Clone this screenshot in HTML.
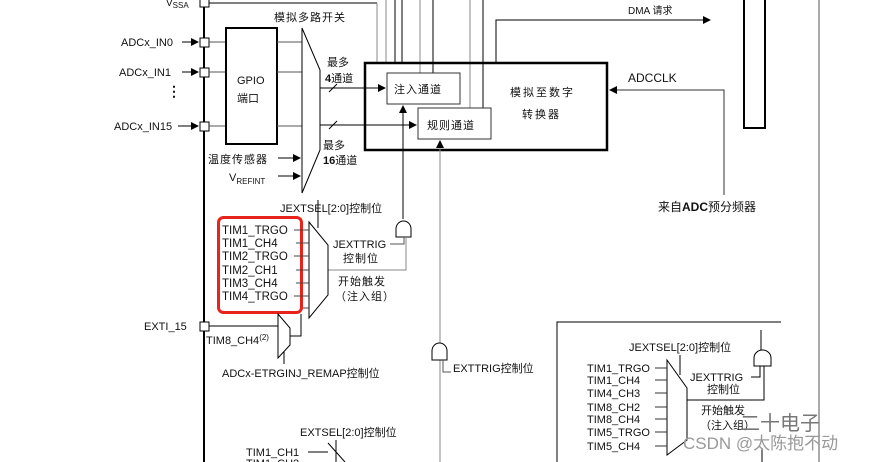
<!DOCTYPE html>
<html><head><meta charset="utf-8"><style>
html,body{margin:0;padding:0;background:#fff;}
svg{display:block;}
text{font-family:"Liberation Sans","Noto Sans CJK SC",sans-serif;fill:#111;}
</style></head><body>
<svg width="869" height="462" viewBox="0 0 869 462" xmlns="http://www.w3.org/2000/svg">
<defs>
<marker id="ar" markerWidth="8" markerHeight="8" refX="7" refY="4" orient="auto" markerUnits="userSpaceOnUse"><path d="M0,0 L8,4 L0,8 z" fill="#000"/></marker>
</defs>
<g stroke="#000" fill="none" stroke-width="1">
<line x1="204" y1="0" x2="204" y2="462" stroke-width="2"/>
<line x1="209" y1="3" x2="377" y2="3"/>
<line x1="377" y1="3" x2="377" y2="63" stroke="#888"/>
<line x1="386" y1="0" x2="386" y2="63" stroke="#888"/>
<line x1="395" y1="0" x2="395" y2="63"/>
<line x1="402" y1="0" x2="402" y2="63"/>
<line x1="420" y1="0" x2="420" y2="73" stroke="#888"/>
<line x1="433" y1="0" x2="433" y2="73"/>
<line x1="470" y1="0" x2="470" y2="108" stroke="#888"/>
<line x1="483" y1="0" x2="483" y2="108"/>
<polyline points="496,63 496,20 710,20" marker-end="url(#ar)"/>
<rect x="200" y="-2" width="9" height="9" fill="#fff"/>
<rect x="200" y="38" width="9" height="9" fill="#fff"/>
<rect x="200" y="68" width="9" height="9" fill="#fff"/>
<rect x="200" y="122" width="9" height="9" fill="#fff"/>
<line x1="182" y1="42" x2="198" y2="42" marker-end="url(#ar)"/>
<line x1="182" y1="72" x2="198" y2="72" marker-end="url(#ar)"/>
<line x1="178" y1="126" x2="198" y2="126" marker-end="url(#ar)"/>
<line x1="209" y1="42" x2="226" y2="42" stroke="#555"/>
<line x1="209" y1="72" x2="226" y2="72" stroke="#555"/>
<line x1="209" y1="126" x2="226" y2="126" stroke="#555"/>
<rect x="226" y="28" width="51" height="116" stroke-width="2"/>
<line x1="277" y1="42" x2="302" y2="42" stroke="#555"/>
<line x1="277" y1="72" x2="302" y2="72" stroke="#555"/>
<line x1="277" y1="126" x2="302" y2="126" stroke="#555"/>
<polygon points="302,28 320,70 320,150 302,193" fill="#fff"/>
<line x1="278" y1="158" x2="300" y2="158" marker-end="url(#ar)"/>
<line x1="278" y1="176" x2="300" y2="176" marker-end="url(#ar)"/>
<line x1="320" y1="88" x2="385" y2="88" marker-end="url(#ar)"/>
<line x1="320" y1="125" x2="416" y2="125" marker-end="url(#ar)"/>
<line x1="329" y1="92" x2="337" y2="84"/>
<line x1="329" y1="129" x2="337" y2="121"/>
<rect x="365" y="63" width="242" height="87" stroke-width="2.5" fill="none"/>
<rect x="387" y="73" width="73" height="31" fill="#fff" stroke="#333"/>
<rect x="418" y="108" width="73" height="31" fill="#fff" stroke="#333"/>
<rect x="744" y="-3" width="21" height="131" stroke-width="2"/>
<line x1="819" y1="0" x2="819" y2="462" stroke="#555"/>
<polyline points="724,195 724,90 610,90" marker-end="url(#ar)" stroke="#333"/>
<line x1="403" y1="219" x2="403" y2="106" marker-end="url(#ar)"/>
<line x1="440" y1="462" x2="440" y2="141" stroke="#888" marker-end="url(#ar)"/>
<path d="M396,237 L396,229 A7.5,8 0 0 1 411,229 L411,237 Z" fill="#fff"/>
<polyline points="390,244 404,244 404,237" stroke="#555"/>
<polyline points="328,270 406,270 406,237" stroke="#888"/>
<line x1="318" y1="200" x2="318" y2="228"/>
<polygon points="309,222 328,245 328,295 309,318" fill="#fff"/>
<rect x="218.5" y="217.5" width="83" height="95" rx="5" stroke="#e8231c" stroke-width="3"/>
<g stroke="#444">
<line x1="294" y1="230" x2="309" y2="230"/><line x1="296" y1="243" x2="309" y2="243"/>
<line x1="294" y1="256" x2="309" y2="256"/><line x1="296" y1="270" x2="309" y2="270"/>
<line x1="296" y1="283" x2="309" y2="283"/><line x1="294" y1="296" x2="309" y2="296"/>
<line x1="303" y1="308" x2="309" y2="308"/>
</g>
<rect x="200" y="322" width="9" height="9" fill="#fff"/>
<line x1="209" y1="326" x2="278" y2="326"/>
<polygon points="278,314 290,328 290,345 278,358" fill="#fff"/>
<polyline points="290,336 301,336 301,314"/>
<line x1="284" y1="352" x2="284" y2="364"/>
<line x1="440" y1="343" x2="440" y2="300" stroke="#888"/>
<path d="M432,360 L432,351 A7.5,8 0 0 1 447,351 L447,360 Z" fill="#fff"/>
<polyline points="443,360 443,372 451,372" stroke="#555"/>
<line x1="336" y1="440" x2="336" y2="462"/>
<line x1="328" y1="443" x2="345" y2="462"/>
<line x1="308" y1="452" x2="328" y2="452"/>
<polyline points="781,322 557,322 557,462"/>
<line x1="761" y1="330" x2="761" y2="351"/>
<path d="M754,366 L754,358 A8.5,8 0 0 1 771,358 L771,366 Z" fill="#fff"/>
<polyline points="751,377 760,377 760,366"/>
<polyline points="687,400 764,400 764,366"/>
<line x1="680" y1="355" x2="680" y2="375"/>
<polygon points="667,360 687,388 687,440 667,455" fill="#fff"/>
<g stroke="#333">
<line x1="655" y1="368" x2="667" y2="368"/><line x1="655" y1="380" x2="667" y2="380"/>
<line x1="655" y1="393" x2="667" y2="393"/><line x1="655" y1="407" x2="667" y2="407"/>
<line x1="655" y1="419" x2="667" y2="419"/><line x1="655" y1="432" x2="667" y2="432"/>
<line x1="655" y1="446" x2="667" y2="446"/>
</g>
<line x1="762" y1="448" x2="762" y2="462"/>
</g>
<g font-size="11">
<text x="166" y="6" font-size="10">V<tspan font-size="8" dy="2">SSA</tspan></text>
<text x="121" y="46">ADCx_IN0</text>
<text x="119" y="76">ADCx_IN1</text>
<text x="167" y="96" font-size="14" font-weight="bold">⋮</text>
<text x="114" y="130">ADCx_IN15</text>
<text x="237" y="84">GPIO</text>
<text x="237" y="102">端口</text>
<text x="274" y="21" letter-spacing="1">模拟多路开关</text>
<text x="327" y="66">最多</text>
<text x="325" y="82" font-weight="bold">4<tspan font-weight="normal">通道</tspan></text>
<text x="323" y="149">最多</text>
<text x="323" y="164" font-weight="bold">16<tspan font-weight="normal">通道</tspan></text>
<text x="208" y="163" letter-spacing="1">温度传感器</text>
<text x="229" y="181">V<tspan font-size="8" dy="3">REFINT</tspan></text>
<text x="394" y="93" letter-spacing="1">注入通道</text>
<text x="427" y="129" letter-spacing="1">规则通道</text>
<text x="510" y="96" letter-spacing="2">模拟至数字</text>
<text x="522" y="118" letter-spacing="2">转换器</text>
<text x="628" y="14" font-size="10">DMA 请求</text>
<text x="628" y="82" font-size="12">ADCCLK</text>
<text x="658" y="211" font-size="12">来自<tspan font-weight="bold">ADC</tspan>预分频器</text>
<text x="280" y="212">JEXTSEL[2:0]控制位</text>
<g font-size="11.5">
<text x="222" y="234">TIM1_TRGO</text>
<text x="222" y="247">TIM1_CH4</text>
<text x="222" y="260">TIM2_TRGO</text>
<text x="222" y="274">TIM2_CH1</text>
<text x="222" y="287">TIM3_CH4</text>
<text x="222" y="300">TIM4_TRGO</text>
</g>
<text x="333" y="248">JEXTTRIG</text>
<text x="343" y="262" letter-spacing="1">控制位</text>
<text x="338" y="285" letter-spacing="1">开始触发</text>
<text x="335" y="300" letter-spacing="1">（注入组）</text>
<text x="144" y="330">EXTI_15</text>
<text x="206" y="344">TIM8_CH4<tspan font-size="8" dy="-4">(2)</tspan></text>
<text x="222" y="377">ADCx-ETRGINJ_REMAP控制位</text>
<text x="453" y="372">EXTTRIG控制位</text>
<text x="300" y="436">EXTSEL[2:0]控制位</text>
<text x="246" y="456">TIM1_CH1</text>
<text x="246" y="467">TIM1_CH2</text>
<text x="629" y="351">JEXTSEL[2:0]控制位</text>
<text x="587" y="372">TIM1_TRGO</text>
<text x="587" y="384">TIM1_CH4</text>
<text x="587" y="397">TIM4_CH3</text>
<text x="587" y="411">TIM8_CH2</text>
<text x="587" y="423">TIM8_CH4</text>
<text x="587" y="436">TIM5_TRGO</text>
<text x="587" y="450">TIM5_CH4</text>
<text x="690" y="381">JEXTTRIG</text>
<text x="707" y="393">控制位</text>
<text x="701" y="414">开始触发</text>
<text x="700" y="429">（注入组）</text>
<text x="740" y="430" font-size="20" style="fill:#777">二十电子</text>
<text x="683" y="449" font-size="17" style="fill:#999">CSDN @太陈抱不动</text>
</g>
</svg>
</body></html>
